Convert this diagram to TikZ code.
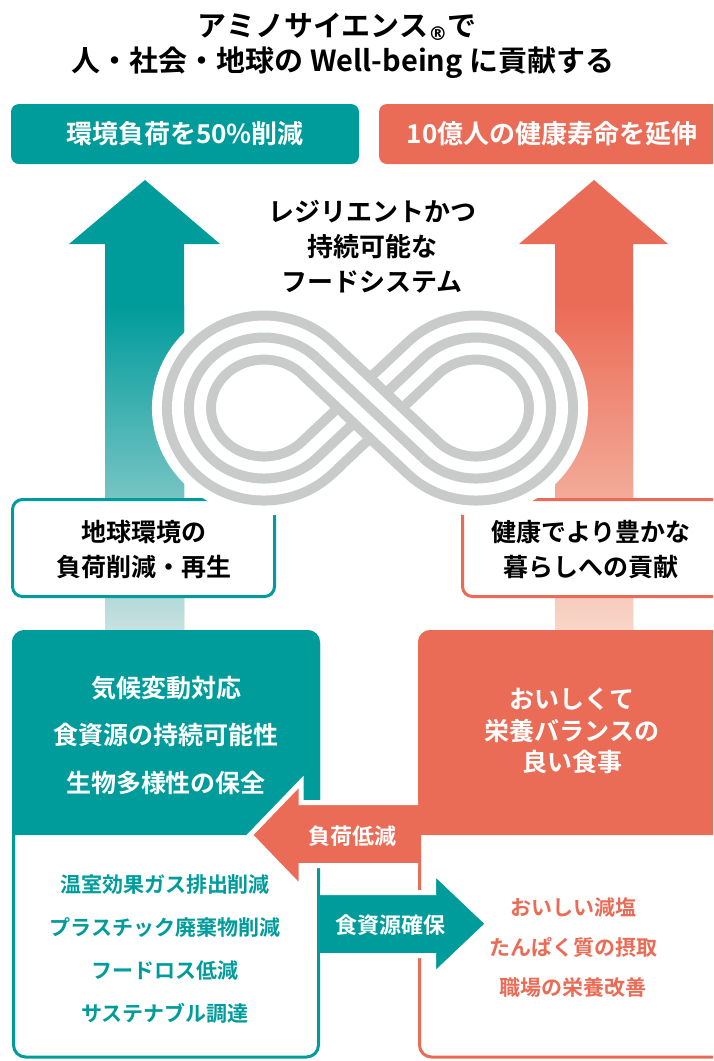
\documentclass[tikz,border=0pt]{standalone}
\usepackage{fontspec}
\setmainfont{Noto Sans CJK JP}[BoldFont={Noto Sans CJK JP Bold}]
\newfontfamily\markfont{DejaVu Sans}
\definecolor{amteal}{HTML}{009B9B}
\definecolor{amcoral}{HTML}{EB6C56}
\definecolor{tealpale}{HTML}{C8E0E0}
\definecolor{coralpale}{HTML}{F8D6C8}
\definecolor{ringgray}{HTML}{C9CACA}
% centre line of the figure-eight, loops left and right
\def\eightpath{(-53,-53) -- (53,53) arc[start angle=135,end angle=-135,radius=75]
  -- (-53,53) arc[start angle=45,end angle=315,radius=75] -- cycle}
\begin{document}
\begin{tikzpicture}[x=1pt,y=1pt]
\tikzset{
  headline/.style={font=\fontsize{29}{40}\selectfont\bfseries, inner sep=0},
  goal text/.style={font=\fontsize{26}{30}\selectfont\bfseries, text=white, inner sep=0},
  loop text/.style={font=\fontsize{26}{35}\selectfont\bfseries, align=center, inner sep=0},
  aim text/.style={font=\fontsize{25}{35}\selectfont\bfseries, align=center, inner sep=0},
  core text/.style={font=\fontsize{25}{#1}\selectfont\bfseries, text=white, align=center, inner sep=0},
  list text/.style={font=\fontsize{21}{#1}\selectfont\bfseries, align=center, inner sep=0},
  flow text/.style={font=\fontsize{22}{26}\selectfont\bfseries, text=white, inner sep=0},
}
\useasboundingbox (0,0) rectangle (713,-1061);
\clip (0,0) rectangle (713,-1061);

% heading
\node[headline] (head1) at (337,-27) {アミノサイエンス{\markfont\fontsize{19}{19}\selectfont\raisebox{-4pt}{®}}で};
\node[headline] (head2) at (343,-63) {人・社会・地球の\hspace{7pt}Well-being\hspace{7pt}に貢献する};

% goals on top
\fill[amteal, rounded corners=8] (11,-104) rectangle (359,-164);
\fill[amcoral, rounded corners=8] (379,-104) rectangle (740,-164);
\node[goal text] (goal1) at (185,-134) {環境負荷を50\%削減};
\node[goal text] (goal2) at (552,-134) {10億人の健康寿命を延伸};

% two big arrows, fading downwards
\fill[amteal] (105,-630) -- (105,-244) -- (69,-244) -- (145,-180) -- (220,-244)
  -- (184,-244) -- (184,-630) -- cycle;
\shade[top color=amteal, bottom color=tealpale] (105,-305) rectangle (184,-630);
\fill[amcoral] (555,-630) -- (555,-244) -- (519,-244) -- (594,-180) -- (668,-244)
  -- (633,-244) -- (633,-630) -- cycle;
\shade[top color=amcoral, bottom color=coralpale] (555,-305) rectangle (633,-630);

% middle boxes
\draw[amteal, line width=3pt, fill=white, rounded corners=10] (12.5,-499.5) rectangle (274.5,-596.5);
\draw[amcoral, line width=3pt, fill=white, rounded corners=10] (462.5,-499.5) rectangle (740,-596.5);
\node[aim text] (aim1) at (144,-550) {地球環境の\\負荷削減・再生};
\node[aim text] (aim2) at (591,-550) {健康でより豊かな\\暮らしへの貢献};

% infinity loop: halo, three lanes, then the crossing band on top
\begin{scope}[shift={(370,-408)}, yscale=0.94]
  \draw[white, line width=74pt] \eightpath;
  \draw[ringgray, line width=54pt] \eightpath;
  \draw[white, line width=34pt] \eightpath;
  \draw[ringgray, line width=10pt] \eightpath;
  \draw[ringgray, line width=54pt] (-53,53) -- (53,-53);
  \draw[white, line width=34pt] (-53,53) -- (53,-53);
  \draw[ringgray, line width=10pt] (-53,53) -- (53,-53);
\end{scope}
\node[loop text] (loop) at (372,-247) {レジリエントかつ\\持続可能な\\フードシステム};

% big boxes
\draw[amteal, line width=3pt, fill=white, rounded corners=12] (13.5,-631.5) rectangle (318.5,-1057);
\fill[amteal] (12,-835) -- (12,-642) arc[start angle=180,end angle=90,radius=12]
  -- (308,-630) arc[start angle=90,end angle=0,radius=12] -- (320,-835) -- cycle;
\draw[amcoral, line width=3pt, fill=white, rounded corners=12] (419.5,-631.5) rectangle (740,-1057);
\fill[amcoral] (418,-835) -- (418,-642) arc[start angle=180,end angle=90,radius=12]
  -- (740,-630) -- (740,-835) -- cycle;

% flow between the boxes
\fill[amcoral] (419,-802.5) -- (301,-802.5) -- (301,-782) -- (250,-835) -- (301,-888)
  -- (301,-865.5) -- (419,-865.5) -- cycle;
\draw[white, line width=5pt] (418,-802.5) -- (301,-802.5) -- (301,-782) -- (250,-835)
  -- (301,-888) -- (301,-865.5) -- (418,-865.5);
\fill[amteal] (317,-892.5) -- (433.5,-892.5) -- (433.5,-872) -- (488,-923.75)
  -- (433.5,-975.5) -- (433.5,-955.5) -- (317,-955.5) -- cycle;
\draw[white, line width=5pt] (320,-892.5) -- (433.5,-892.5) -- (433.5,-872) -- (488,-923.75)
  -- (433.5,-975.5) -- (433.5,-955.5) -- (320,-955.5);
\node[flow text] (cut) at (352,-836) {負荷低減};
\node[flow text] (secure) at (390,-925) {食資源確保};

% box contents
\node[core text=47.5] (env) at (166,-735) {気候変動対応\\食資源の持続可能性\\生物多様性の保全};
\node[core text=31.5] (meal) at (572,-731) {おいしくて\\栄養バランスの\\良い食事};
\node[list text=42.7, text=amteal] (envlist) at (165,-949) {温室効果ガス排出削減\\プラスチック廃棄物削減\\フードロス低減\\サステナブル調達};
\node[list text=40, text=amcoral] (meallist) at (573,-948) {おいしい減塩\\たんぱく質の摂取\\職場の栄養改善};
\end{tikzpicture}
\end{document}
